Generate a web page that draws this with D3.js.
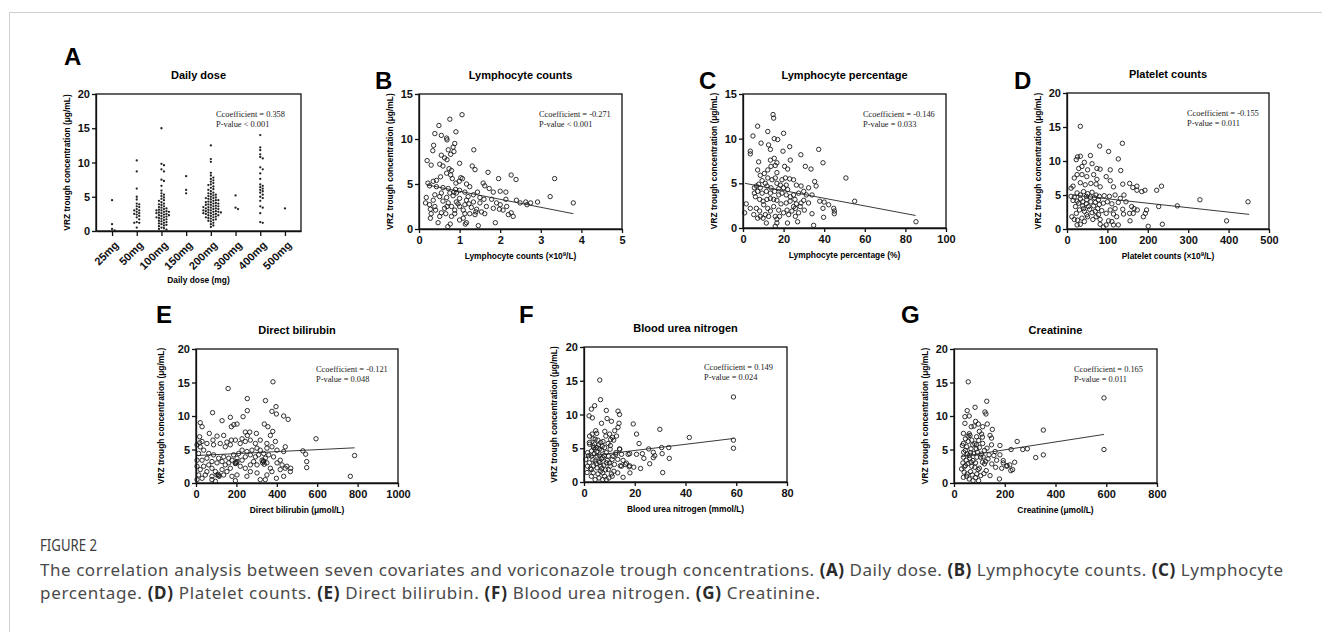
<!DOCTYPE html>
<html>
<head>
<meta charset="utf-8">
<script src="https://cdn.jsdelivr.net/npm/d3@7"></script>
<style>
  body { margin: 0; background: #fff; }
  svg text { font-family: "Liberation Sans", Arial, sans-serif; }
  .axis path, .axis line { stroke: #111; stroke-width: 1.3; }
  .axis text { font-weight: bold; font-size: 11px; fill: #111; font-family: "Liberation Sans", Arial, sans-serif; }
</style>
</head>
<body>
<svg id="fig"></svg>
<script>
// ---- data ----
var doseCats = ["25mg", "50mg", "100mg", "150mg", "200mg", "300mg", "400mg", "500mg"];
var dose25 = [4.5, 1.0, 0.3, 0.1];
var dose50 = [10.3, 8.7, 6.2, 5.0, 4.6, 4.0, 3.9, 3.6, 3.5, 3.2, 3.0, 3.0, 2.8, 2.6, 2.5, 2.4, 2.2, 2.0, 1.7, 1.3, 1.2, 1.2, 0.5];
var dose100 = [15.0, 9.8, 9.6, 9.0, 8.7, 7.5, 7.3, 6.6, 5.9, 5.5, 5.3, 5.1, 4.9, 4.7, 4.5, 4.4, 4.2, 4.0, 3.9, 3.8, 3.6, 3.5, 3.4, 3.3, 3.2, 3.1, 3.0, 3.0, 2.9, 2.8, 2.8, 2.7, 2.6, 2.6, 2.5, 2.4, 2.3, 2.3, 2.2, 2.1, 2.0, 2.0, 1.9, 1.8, 1.7, 1.6, 1.5, 1.4, 1.3, 1.2, 1.1, 1.0, 0.9, 0.8, 0.7, 0.5, 0.4, 0.3, 0.2];
var dose150 = [8.0, 6.0, 5.5];
var dose200 = [12.5, 10.5, 10.1, 8.5, 8.1, 7.8, 7.6, 7.4, 7.2, 7.0, 6.8, 6.7, 6.5, 6.3, 6.1, 6.0, 5.8, 5.6, 5.5, 5.4, 5.3, 5.2, 5.1, 5.0, 4.9, 4.8, 4.8, 4.7, 4.6, 4.5, 4.5, 4.4, 4.3, 4.2, 4.2, 4.1, 4.0, 4.0, 3.9, 3.8, 3.8, 3.7, 3.6, 3.6, 3.5, 3.5, 3.4, 3.3, 3.3, 3.2, 3.2, 3.1, 3.0, 3.0, 2.9, 2.9, 2.8, 2.8, 2.7, 2.7, 2.6, 2.6, 2.5, 2.5, 2.4, 2.3, 2.3, 2.2, 2.1, 2.0, 2.0, 1.9, 1.8, 1.7, 1.6, 1.5, 1.4, 1.2, 1.0, 0.8, 0.6];
var dose300 = [5.2, 3.4, 3.2];
var dose400 = [14.0, 12.2, 11.8, 11.2, 10.8, 10.6, 9.3, 9.0, 8.4, 7.6, 6.8, 6.6, 6.4, 6.2, 6.0, 5.8, 5.6, 5.3, 5.0, 4.8, 4.4, 3.6, 3.4, 2.6, 1.3, 1.2];
var dose500 = [3.3];

var lymphCountPts = [[0.2,7.6],[0.3,7.1],[0.49,11.5],[0.39,10.6],[0.36,9.3],[0.34,8.7],[0.55,10.4],[0.68,10.1],[0.69,9.9],[0.76,12.2],[1.06,12.7],[0.91,10.8],[0.88,9.5],[0.84,9.1],[0.72,8.8],[0.78,8.3],[0.86,8.6],[1.35,8.8],[0.55,8.2],[0.63,7.9],[0.69,7.7],[1.0,7.3],[0.51,7.2],[0.59,7.0],[0.74,6.7],[0.8,6.5],[1.31,7.0],[1.38,6.6],[1.7,6.3],[1.96,5.6],[2.27,6.0],[2.39,5.5],[3.34,5.6],[3.23,3.6],[3.8,2.9],[2.92,3.0],[2.75,2.9],[2.63,3.0],[2.4,3.2],[2.14,3.3],[2.14,4.1],[2.0,4.2],[1.83,4.1],[1.73,4.5],[1.62,4.8],[1.58,5.1],[1.44,4.1],[1.34,3.8],[1.25,4.7],[1.17,5.0],[1.07,5.6],[1.03,5.7],[0.99,5.3],[0.91,5.1],[0.82,5.6],[0.78,6.0],[0.68,6.2],[0.53,5.8],[0.43,5.4],[0.35,5.3],[0.22,5.1],[0.26,4.8],[0.43,4.7],[0.59,4.6],[0.72,4.5],[0.9,4.4],[1.0,4.3],[1.13,4.1],[0.55,4.0],[0.39,3.8],[0.51,3.6],[0.68,3.5],[0.84,3.7],[1.0,3.4],[1.17,3.2],[1.34,3.0],[1.5,2.9],[1.66,2.5],[1.83,2.3],[2.0,2.7],[2.16,2.5],[2.2,1.6],[2.27,1.8],[2.32,1.4],[2.07,2.1],[0.18,3.5],[0.16,2.9],[0.26,2.7],[0.28,2.2],[0.3,1.7],[0.28,1.2],[0.47,0.7],[0.55,1.8],[0.63,2.3],[0.72,2.9],[0.8,2.5],[0.88,2.1],[0.92,3.0],[1.0,2.5],[1.09,2.1],[1.13,1.7],[1.09,1.2],[1.0,1.0],[1.17,0.7],[1.14,0.55],[0.77,0.55],[0.71,0.26],[1.46,0.37],[1.88,0.7],[1.54,1.9],[1.62,1.7],[1.42,2.2],[1.29,2.4],[1.23,2.8],[1.38,1.6],[0.66,1.7],[0.8,1.4],[0.88,1.7],[0.51,1.4],[0.41,2.1],[0.35,3.2],[0.39,2.5],[1.25,1.7],[1.4,1.9],[0.92,4.0],[0.76,4.0],[0.86,4.1],[0.59,3.1],[0.69,2.5],[0.96,2.8],[1.13,2.7],[1.21,3.6],[1.5,3.5],[1.6,3.3],[1.79,3.3],[1.91,2.9],[1.98,2.2],[2.49,2.9],[2.66,2.7]];
var lymphCountFit = [[0.2, 4.9], [3.8, 1.7]];

var lymphPctPts = [[0.8,1.7],[1.6,2.7],[3.6,2.2],[3.6,8.6],[3.6,8.3],[4.9,10.3],[7.2,11.4],[8.9,9.5],[12.2,10.8],[12.6,9.3],[13.5,8.8],[14.8,12.7],[15.1,12.3],[15.4,10.0],[17.1,9.9],[20,10.6],[19.7,8.6],[23,9.1],[23.3,7.6],[28.5,8.2],[37.3,8.8],[39.4,7.3],[50.7,5.6],[55,3.0],[85.2,0.7],[30.7,6.9],[33.5,6.6],[35.3,5.2],[36,4.7],[37.8,3.0],[39.4,2.2],[40,2.9],[42.2,2.6],[44.7,2.2],[45,1.6],[45,1.9],[39.7,1.2],[34.8,0.3],[34,1.6],[34,3.7],[31.2,3.7],[30.2,2.0],[28.2,2.4],[27.4,1.7],[26.9,0.7],[21.9,0.56],[16.7,0.56],[15.9,0.19],[11.5,0.56],[7.2,1.1],[8.5,1.3],[9.9,1.1],[11,1.5],[12.6,1.3],[13.5,1.9],[15.9,1.3],[16.7,1.0],[18,1.3],[20,1.7],[21.7,2.0],[24.1,1.9],[24.9,2.4],[26.3,2.7],[28.6,2.8],[29.9,3.1],[32.3,2.8],[25.6,3.2],[23.2,3.0],[21.3,2.8],[18.7,2.7],[16.7,3.1],[15.1,3.2],[13.5,3.3],[11.8,3.2],[9.9,3.0],[8.2,3.2],[6.1,3.5],[5.6,3.9],[7.2,4.1],[9.4,3.9],[11.5,4.1],[13.5,3.9],[15.6,4.1],[17.6,3.7],[19.2,3.9],[21.3,3.7],[23.3,3.5],[24.9,3.7],[27.4,3.9],[29.9,4.1],[32.3,4.5],[28.6,4.7],[26.3,4.8],[24.9,5.4],[23,5.5],[20.9,5.6],[19.2,5.4],[21.3,4.8],[18.4,4.8],[16.7,5.0],[15.9,5.6],[14.3,5.4],[12.2,5.6],[11,5.0],[9.4,5.3],[7.7,4.9],[6.6,4.7],[5.6,4.5],[8.5,4.5],[11.8,4.7],[13.8,4.5],[17.6,4.4],[20,4.5],[22,4.3],[8.5,5.9],[10.5,6.1],[12.2,6.5],[13.8,6.9],[15.9,7.0],[16.7,6.2],[20.5,6.9],[22,6.6],[7.2,6.5],[7.7,7.4],[13.5,7.6],[15.4,7.8],[16.7,7.3],[10.2,2.6],[12.2,2.2],[15.1,2.4],[17.6,2.0],[6.6,2.2],[8.2,1.9],[5.3,1.5],[25.8,1.3],[22.5,1.5],[25.8,2.2]];
var lymphPctFit = [[1, 5.0], [85, 1.4]];

var plateletPts = [[33,15.1],[81,12.2],[137,12.6],[103,11.4],[127,10.3],[26,10.6],[33,10.7],[23,10.2],[58,10.8],[62,9.6],[43,9.8],[37,9.2],[29,8.9],[51,8.7],[74,8.9],[82,8.8],[107,8.7],[133,8.6],[18,7.5],[25,8.0],[37,8.0],[49,7.7],[66,8.0],[74,7.3],[97,7.7],[107,7.1],[10,6.0],[15,6.3],[33,6.8],[45,6.5],[59,6.7],[72,6.6],[82,6.2],[115,6.2],[138,6.6],[155,6.7],[163,6.1],[173,6.3],[173,5.7],[185,5.5],[193,5.7],[222,5.7],[234,6.3],[10,4.8],[15,4.2],[18,4.7],[25,5.3],[33,5.0],[41,5.5],[51,5.2],[62,5.4],[72,5.0],[80,4.8],[92,4.9],[105,4.8],[119,5.0],[132,4.5],[141,5.0],[127,3.9],[146,4.0],[160,3.3],[166,3.0],[174,2.8],[197,2.8],[194,2.3],[189,1.8],[227,3.3],[273,3.4],[329,4.3],[448,4.0],[395,1.2],[236,0.7],[201,0.4],[156,1.2],[140,2.2],[115,2.2],[103,1.2],[115,0.6],[127,0.6],[97,0.6],[90,0.3],[82,0.7],[82,1.4],[72,1.8],[62,2.4],[49,2.1],[37,1.6],[26,1.3],[18,1.4],[12,1.8],[23,2.3],[31,2.8],[41,3.0],[53,3.3],[66,3.4],[76,3.0],[86,2.7],[97,2.3],[107,2.8],[119,3.0],[21,3.3],[29,3.8],[39,4.0],[49,4.3],[59,4.0],[70,3.9],[80,3.6],[90,3.8],[100,4.0],[111,3.7],[43,2.6],[56,2.9],[70,2.6],[78,2.1],[51,1.8],[64,1.4],[33,0.7],[43,1.1],[25,0.6],[138,2.9],[155,2.3],[164,2.3],[123,1.8],[111,1.1],[39,3.4],[48,3.7],[58,4.7],[68,4.6],[78,4.3],[48,4.8],[33,4.4],[25,4.1]];
var plateletFit = [[15, 5.0], [451, 2.15]];

var bilirubinPts = [[381,15.1],[159,14.1],[254,12.6],[344,12.3],[396,11.4],[376,10.7],[254,10.8],[398,10.3],[434,10.0],[456,9.5],[82,10.5],[129,9.3],[170,9.8],[233,9.9],[338,8.8],[356,8.4],[380,7.7],[368,7.1],[21,9.0],[30,8.4],[18,6.9],[66,7.4],[104,7.0],[137,7.1],[175,8.4],[187,8.7],[203,8.8],[244,7.6],[266,7.6],[299,7.4],[254,7.1],[594,6.6],[228,6.6],[175,6.4],[153,6.1],[84,6.4],[18,6.0],[442,5.4],[529,4.8],[543,4.3],[548,3.2],[548,2.3],[785,4.1],[764,1.0],[5,0.5],[79,0.5],[96,0.25],[195,0.35],[318,0.5],[343,0.5],[398,0.7],[104,1.2],[112,1.1],[137,1.2],[46,1.2],[13,1.2],[21,2.0],[38,2.5],[63,2.7],[79,2.2],[96,1.7],[129,2.0],[153,1.7],[170,2.2],[195,3.0],[203,3.2],[219,2.5],[244,2.2],[269,2.7],[285,3.2],[302,2.7],[327,3.4],[335,3.2],[343,3.7],[351,3.0],[368,2.2],[376,1.7],[417,2.0],[426,2.7],[450,2.5],[469,2.2],[442,2.2],[401,3.0],[417,3.4],[384,3.9],[360,4.2],[335,4.4],[310,4.2],[294,3.9],[269,4.2],[252,4.7],[228,4.9],[211,4.4],[186,4.2],[162,3.7],[137,3.9],[112,3.7],[87,4.2],[63,4.4],[38,4.9],[21,5.4],[5,5.7],[13,4.4],[5,3.4],[5,2.5],[30,3.4],[54,3.7],[79,3.2],[104,3.0],[129,3.2],[145,2.7],[162,3.0],[178,3.4],[203,3.7],[228,3.4],[244,3.9],[277,4.9],[302,5.2],[318,4.9],[351,5.2],[376,5.4],[401,4.9],[434,4.7],[294,5.9],[269,6.4],[244,6.2],[219,5.9],[195,6.4],[170,5.7],[145,5.4],[120,5.9],[87,5.7],[54,5.9],[30,6.2],[318,6.4],[351,5.9],[393,6.2],[434,1.0],[467,1.7],[30,0.7],[54,1.7],[79,1.0],[252,1.0],[269,1.7],[302,1.5],[351,1.2],[203,1.2],[178,1.0],[330,3.0],[338,2.8],[334,3.3],[110,1.3],[115,1.0],[195,2.9],[200,3.0]];
var bilirubinFit = [[5, 4.1], [785, 5.25]];

var bunPts = [[6.2,15.1],[6.5,12.2],[58.9,12.6],[4.2,11.3],[2.9,10.8],[8.8,10.6],[13.4,10.5],[14,10.0],[2,9.8],[3.3,9.5],[9.1,9.4],[10.8,9.0],[6.9,8.7],[13.8,8.7],[19.4,8.6],[13.4,8.1],[29.9,7.8],[20.7,7.1],[4.6,7.6],[8.2,7.5],[10.1,7.1],[12.1,7.6],[12.8,6.8],[11.2,6.6],[41.5,6.6],[2.2,6.8],[3.6,6.4],[5.5,6.2],[7.5,6.0],[9.5,5.7],[11.7,6.2],[21.7,5.7],[10.4,5.4],[2.2,5.6],[3.8,5.1],[6.2,4.9],[14.0,4.9],[20.7,4.1],[23.0,4.2],[25.5,4.9],[27.3,4.4],[30.6,5.1],[30.8,4.2],[33.4,5.1],[58.9,6.2],[58.9,5.0],[17.4,4.1],[18,4.2],[12.5,4.1],[27.9,3.9],[23.6,3.5],[27.3,3.6],[33.6,3.5],[25.9,2.7],[16.7,2.8],[18,2.4],[19.6,2.2],[22.3,2.0],[31,1.4],[15.4,3.2],[14.3,2.4],[10.8,1.2],[15.4,0.7],[1.4,4.35],[2.1,2.85],[2.9,1.85],[3.6,5.35],[4.4,4.85],[5.1,3.85],[5.9,3.1],[6.6,2.35],[7.4,1.35],[8.1,0.85],[8.8,0.35],[5.9,0.6],[7.4,0.35],[3.6,1.35],[1.4,2.35],[0.7,3.35],[9.6,3.85],[11.1,3.35],[12.6,4.35],[13.3,3.35],[14.1,4.85],[14.8,4.1],[9.6,1.85],[10.3,2.35],[11.8,1.6],[13.3,1.35],[14.8,2.35],[16.3,2.6],[17.8,2.25],[5.1,5.1],[6.6,5.85],[8.1,5.1],[4.4,6.35],[2.1,5.85],[8.8,4.35],[10.3,4.85],[2.9,3.85],[4.4,3.1],[7.4,3.6],[8.8,2.85],[5.1,2.1],[6.6,1.6],[2.9,0.85],[4.4,0.35],[11.1,0.85],[18.1,1.35],[3.0,4.6],[4.0,4.2],[5.0,4.5],[6.0,4.0],[7.0,4.7],[8.0,3.9],[3.5,3.3],[4.8,2.7],[6.2,2.9],[7.8,2.5],[9.2,3.2],[2.5,2.0],[3.8,2.4],[5.5,1.2],[7.0,2.0],[8.5,1.8],[10.0,2.8],[11.5,3.8],[12.0,2.6],[4.2,5.6],[5.8,5.5],[7.2,5.3],[3.2,7.1],[5.0,7.2],[8.6,6.8],[10.5,6.3],[6.8,3.4],[1.8,3.9],[1.2,1.4],[9.8,0.6]];
var bunFit = [[1, 3.8], [59, 6.45]];

var creatininePts = [[56,15.1],[129,12.2],[591,12.7],[83,11.3],[52,10.8],[43,9.9],[60,10.0],[122,10.6],[126,10.3],[43,8.9],[79,8.5],[96,8.8],[113,8.4],[131,8.8],[151,8.0],[352,7.9],[37,7.4],[63,7.1],[89,6.9],[109,7.3],[142,7.1],[148,6.7],[37,5.9],[56,6.2],[74,5.7],[89,5.7],[113,5.9],[148,5.7],[181,5.6],[249,6.2],[225,5.0],[271,5.0],[289,5.1],[322,3.8],[352,4.2],[591,5.0],[162,4.7],[181,4.2],[168,3.4],[194,3.0],[208,2.5],[188,2.2],[220,2.7],[231,2.0],[30,2.1],[37,3.85],[45,2.6],[52,1.35],[60,0.6],[52,4.35],[67,5.1],[75,3.35],[82,2.35],[90,1.35],[97,0.35],[105,3.85],[112,3.1],[120,4.85],[127,1.85],[134,3.6],[142,1.1],[149,2.85],[157,4.1],[164,2.35],[179,0.6],[194,3.35],[209,2.6],[224,1.85],[239,3.1],[33,5.6],[45,6.6],[60,7.35],[82,5.85],[97,6.35],[112,6.85],[37,0.85],[75,0.35],[105,1.1],[67,3.1],[90,3.85],[120,2.85],[45,4.85],[60,4.1],[35,3.0],[40,2.4],[48,3.4],[55,2.9],[62,3.7],[70,2.5],[78,4.4],[85,3.0],[92,4.6],[100,2.2],[108,4.3],[115,3.9],[125,3.2],[138,4.2],[40,1.6],[50,1.0],[65,1.7],[72,1.2],[85,0.8],[95,2.0],[118,1.4],[38,4.6],[50,5.4],[65,4.5],[88,5.1],[100,5.3],[130,5.2],[70,6.4],[55,7.0],[100,7.7],[85,9.2],[68,8.4]];
var creatinineFit = [[30, 3.95], [591, 7.25]];

var captionLine1 = [["The correlation analysis between seven covariates and voriconazole trough concentrations. ", false], ["(A)", true], [" Daily dose. ", false], ["(B)", true], [" Lymphocyte counts. ", false], ["(C)", true], [" Lymphocyte", false]];
var captionLine2 = [["percentage. ", false], ["(D)", true], [" Platelet counts. ", false], ["(E)", true], [" Direct bilirubin. ", false], ["(F)", true], [" Blood urea nitrogen. ", false], ["(G)", true], [" Creatinine.", false]];

var Y_LABEL = "VRZ trough concentration (\u03bcg/mL)";

// ---- layout ----
var svg = d3.select("#fig").attr("width", 1322).attr("height", 632);

svg.append("path").attr("d", "M9.5,632V12.5H1322")
    .attr("fill", "none").attr("stroke", "#cfcfcf").attr("stroke-width", 1);

function frame(p, x, y) {
    svg.append("rect").attr("x", p.left).attr("y", p.top)
        .attr("width", p.right - p.left).attr("height", p.bottom - p.top)
        .attr("fill", "none").attr("stroke", "#111").attr("stroke-width", 1.3);
    svg.append("g").attr("class", "axis")
        .attr("transform", "translate(" + p.left + ",0)")
        .call(d3.axisLeft(y).tickValues(p.yTicks).tickFormat(d3.format("d"))
            .tickSize(4).tickSizeOuter(0).tickPadding(2));
    svg.append("text").attr("x", p.letterX).attr("y", p.letterY)
        .style("font-size", "24px").style("font-weight", "bold").text(p.letter);
    svg.append("text").attr("x", (p.left + p.right) / 2).attr("y", p.top - 15)
        .attr("text-anchor", "middle").style("font-size", "11px").style("font-weight", "bold")
        .text(p.title);
    svg.append("text")
        .attr("transform", "translate(" + p.ylabX + "," + (p.top + p.bottom) / 2 + ") rotate(-90)")
        .attr("text-anchor", "middle").style("font-size", "8.4px").style("font-weight", "bold")
        .text(Y_LABEL);
    var stats = svg.append("text").attr("x", p.left + 120).attr("y", p.top + 23)
        .style("font-family", "'Liberation Serif', 'Times New Roman', serif").style("font-size", "8.4px").attr("fill", "#222");
    stats.append("tspan").text(p.stats[0]);
    stats.append("tspan").attr("x", p.left + 120).attr("dy", 9.5).text(p.stats[1]);
}

function xTitle(p, y, parts) {
    var t = svg.append("text").attr("x", (p.left + p.right) / 2).attr("y", y)
        .attr("text-anchor", "middle").style("font-size", "8.4px").style("font-weight", "bold");
    parts.forEach(function (s) {
        var ts = t.append("tspan").text(s[0]);
        if (s[1]) ts.attr("baseline-shift", "super").style("font-size", "6px");
    });
}

function drawScatter(p, pts, fit) {
    var x = d3.scaleLinear().domain(p.xDomain).range([p.left, p.right]);
    var y = d3.scaleLinear().domain(p.yDomain).range([p.bottom, p.top]);
    frame(p, x, y);
    svg.append("g").attr("class", "axis")
        .attr("transform", "translate(0," + p.bottom + ")")
        .call(d3.axisBottom(x).tickValues(p.xTicks).tickFormat(d3.format("d"))
            .tickSize(4).tickSizeOuter(0).tickPadding(3));
    svg.append("g").selectAll("circle").data(pts).join("circle")
        .attr("cx", function (d) { return x(d[0]); })
        .attr("cy", function (d) { return y(d[1]); })
        .attr("r", 2.2).attr("fill", "none").attr("stroke", "#1a1a1a").attr("stroke-width", 0.9);
    svg.append("path").datum(fit)
        .attr("d", d3.line().x(function (d) { return x(d[0]); }).y(function (d) { return y(d[1]); }))
        .attr("stroke", "#222").attr("stroke-width", 0.9).attr("fill", "none");
    xTitle(p, p.bottom + 30, p.xTitle);
}

// beeswarm placement of the dot plot
function swarm(vals, cx, y, d) {
    var placed = [];
    return vals.slice().sort(d3.descending).map(function (v) {
        var py = y(v), k = 0, px;
        while (true) {
            px = cx + (k === 0 ? 0 : (k % 2 ? 1 : -1) * Math.ceil(k / 2) * d);
            if (!placed.some(function (q) { return Math.hypot(q[0] - px, q[1] - py) < d; })) break;
            k++;
        }
        placed.push([px, py]);
        return [px, py];
    });
}

// ---- panel A ----
(function () {
    var p = {left: 96, right: 301, top: 94, bottom: 231, yTicks: [0, 5, 10, 15, 20],
        letter: "A", letterX: 64, letterY: 65, title: "Daily dose", ylabX: 70,
        stats: ["Ccoefficient = 0.358", "P-value < 0.001"]};
    var x = d3.scalePoint().domain(doseCats).range([p.left, p.right]).padding(0.65);
    var y = d3.scaleLinear().domain([0, 20]).range([p.bottom, p.top]);
    frame(p, x, y);
    var ax = svg.append("g").attr("class", "axis")
        .attr("transform", "translate(0," + p.bottom + ")")
        .call(d3.axisBottom(x).tickSize(5).tickSizeOuter(0));
    ax.selectAll("text").attr("x", 0).attr("y", 0).attr("dy", "0.35em")
        .attr("text-anchor", "end").attr("transform", "translate(4,12) rotate(-45)");
    var groups = [dose25, dose50, dose100, dose150, dose200, dose300, dose400, dose500];
    groups.forEach(function (vals, i) {
        svg.append("g").selectAll("circle").data(swarm(vals, x(doseCats[i]), y, 2.5)).join("circle")
            .attr("cx", function (d) { return d[0]; }).attr("cy", function (d) { return d[1]; })
            .attr("r", 1.15).attr("fill", "#222");
    });
    xTitle(p, 283, [["Daily dose (mg)"]]);
})();

drawScatter({left: 419, right: 622, top: 94, bottom: 229, xDomain: [0, 5], yDomain: [0, 15],
    xTicks: [0, 1, 2, 3, 4, 5], yTicks: [0, 5, 10, 15], letter: "B", letterX: 375, letterY: 89,
    title: "Lymphocyte counts", ylabX: 393, stats: ["Ccoefficient = -0.271", "P-value < 0.001"],
    xTitle: [["Lymphocyte counts (\u00d710"], ["9", true], ["/L)"]]}, lymphCountPts, lymphCountFit);

drawScatter({left: 743, right: 946, top: 94, bottom: 228, xDomain: [0, 100], yDomain: [0, 15],
    xTicks: [0, 20, 40, 60, 80, 100], yTicks: [0, 5, 10, 15], letter: "C", letterX: 699, letterY: 89,
    title: "Lymphocyte percentage", ylabX: 717, stats: ["Ccoefficient = -0.146", "P-value = 0.033"],
    xTitle: [["Lymphocyte percentage (%)"]]}, lymphPctPts, lymphPctFit);

drawScatter({left: 1067, right: 1269, top: 93, bottom: 229, xDomain: [0, 500], yDomain: [0, 20],
    xTicks: [0, 100, 200, 300, 400, 500], yTicks: [0, 5, 10, 15, 20], letter: "D", letterX: 1014, letterY: 89,
    title: "Platelet counts", ylabX: 1041, stats: ["Ccoefficient = -0.155", "P-value = 0.011"],
    xTitle: [["Platelet counts (\u00d710"], ["9", true], ["/L)"]]}, plateletPts, plateletFit);

drawScatter({left: 196, right: 398, top: 349, bottom: 483, xDomain: [0, 1000], yDomain: [0, 20],
    xTicks: [0, 200, 400, 600, 800, 1000], yTicks: [0, 5, 10, 15, 20], letter: "E", letterX: 156, letterY: 323,
    title: "Direct bilirubin", ylabX: 164, stats: ["Ccoefficient = -0.121", "P-value = 0.048"],
    xTitle: [["Direct bilirubin (\u03bcmol/L)"]]}, bilirubinPts, bilirubinFit);

drawScatter({left: 584, right: 787, top: 347, bottom: 482, xDomain: [0, 80], yDomain: [0, 20],
    xTicks: [0, 20, 40, 60, 80], yTicks: [0, 5, 10, 15, 20], letter: "F", letterX: 519, letterY: 323,
    title: "Blood urea nitrogen", ylabX: 557, stats: ["Ccoefficient = 0.149", "P-value = 0.024"],
    xTitle: [["Blood urea nitrogen (mmol/L)"]]}, bunPts, bunFit);

drawScatter({left: 954, right: 1157, top: 349, bottom: 483, xDomain: [0, 800], yDomain: [0, 20],
    xTicks: [0, 200, 400, 600, 800], yTicks: [0, 5, 10, 15, 20], letter: "G", letterX: 901, letterY: 323,
    title: "Creatinine", ylabX: 928, stats: ["Ccoefficient = 0.165", "P-value = 0.011"],
    xTitle: [["Creatinine (\u03bcmol/L)"]]}, creatininePts, creatinineFit);

// ---- caption ----
svg.append("text").attr("x", 40).attr("y", 551)
    .style("font-family", "'Noto Sans', 'Open Sans', sans-serif").style("font-size", "15.5px")
    .attr("textLength", 57).attr("lengthAdjust", "spacingAndGlyphs")
    .attr("fill", "#3c3c3c").text("FIGURE 2");
[[captionLine1, 576, 1243], [captionLine2, 599, 780]].forEach(function (row) {
    var t = svg.append("text").attr("x", 40).attr("y", row[1])
        .style("font-family", "'Noto Sans', 'Open Sans', sans-serif").style("font-size", "17px")
        .attr("fill", "#4a4a4a")
        .attr("textLength", row[2]).attr("lengthAdjust", "spacing");
    row[0].forEach(function (s) {
        var ts = t.append("tspan").text(s[0]);
        if (s[1]) ts.style("font-weight", "bold").attr("fill", "#2a2a2a");
    });
});
</script>
</body>
</html>
